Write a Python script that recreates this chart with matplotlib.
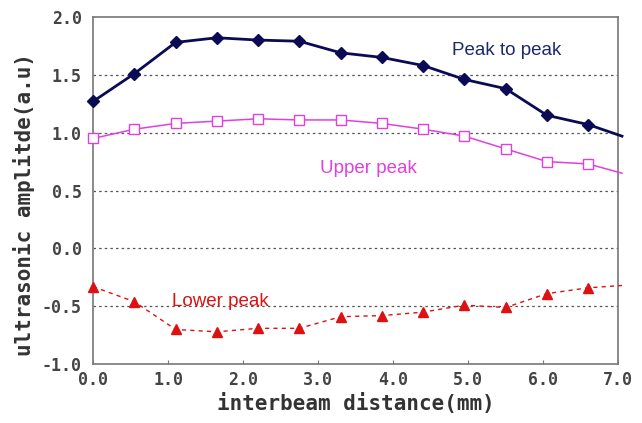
import matplotlib
matplotlib.use("Agg")
import matplotlib.pyplot as plt

# interbeam distance (mm); last entry is where the lines run into the right frame
distance = [0.0, 0.55, 1.1, 1.65, 2.2, 2.75, 3.3, 3.85, 4.4, 4.95, 5.5, 6.05, 6.6, 7.05]

peak_to_peak = [1.27, 1.51, 1.78, 1.82, 1.80, 1.79, 1.69, 1.65, 1.58, 1.46, 1.38, 1.15, 1.07, 0.97]
upper_peak = [0.95, 1.03, 1.08, 1.10, 1.12, 1.11, 1.11, 1.08, 1.03, 0.97, 0.86, 0.75, 0.73, 0.65]
lower_peak = [-0.33, -0.46, -0.70, -0.72, -0.69, -0.69, -0.59, -0.58, -0.55, -0.49, -0.51, -0.39, -0.34, -0.32]

x_ticks = [0, 1, 2, 3, 4, 5, 6, 7]
y_ticks = [-1.0, -0.5, 0.0, 0.5, 1.0, 1.5, 2.0]

fig = plt.figure(figsize=(6.42, 4.23), dpi=100)
ax = fig.add_axes([0.145, 0.139, 0.818, 0.821])

for y in [-0.5, 0.0, 0.5, 1.0, 1.5]:
    ax.axhline(y, color="#555555", lw=0.9, ls=(0, (2, 2.5)), zorder=1)

marks = slice(0, len(distance) - 1)
ax.plot(distance, peak_to_peak, color="#0b0b55", lw=2.0, marker="D", ms=6.5,
        markevery=marks, clip_on=False, zorder=4)
ax.plot(distance, upper_peak, color="#e040e0", lw=1.1, marker="s", ms=6.5,
        mfc="white", mec="#e040e0", mew=1.0, markevery=marks, clip_on=False, zorder=3)
ax.plot(distance, lower_peak, color="#dd1111", lw=1.0, ls=(0, (3, 3)), marker="^", ms=6.5,
        markevery=marks, clip_on=False, zorder=3)

ax.text(4.79, 1.67, "Peak to peak", color="#1a2a6a", fontsize=13.5,
        family="Liberation Sans", va="baseline")
ax.text(3.03, 0.65, "Upper peak", color="#e040e0", fontsize=13.5,
        family="Liberation Sans", va="baseline")
ax.text(1.05, -0.50, "Lower peak", color="#dd1111", fontsize=13.5,
        family="Liberation Sans", va="baseline")

ax.set_xlim(0, 7)
ax.set_ylim(-1.0, 2.0)
ax.set_xticks(x_ticks)
ax.set_xticklabels([f"{v:.1f}" for v in x_ticks])
ax.set_yticks(y_ticks)
ax.set_yticklabels([f"{v:.1f}" for v in y_ticks])
ax.tick_params(axis="x", direction="in", length=3, color="#777777", pad=5)
ax.tick_params(axis="y", length=0, pad=8)
for lab in ax.get_xticklabels() + ax.get_yticklabels():
    lab.set_family("DejaVu Sans Mono")
    lab.set_fontweight("bold")
    lab.set_fontsize(12)
    lab.set_color("#444444")
for sp in ax.spines.values():
    sp.set_color("#777777")
    sp.set_linewidth(1.2)

ax.set_xlabel("interbeam distance(mm)", family="DejaVu Sans Mono", fontweight="bold",
              fontsize=15, color="#333333", labelpad=3)
ax.set_ylabel("ultrasonic amplitde(a.u)", family="DejaVu Sans Mono", fontweight="bold",
              fontsize=15, color="#333333")
ax.yaxis.set_label_coords(-0.11, 0.46)

fig.savefig("out.png", dpi=100)
